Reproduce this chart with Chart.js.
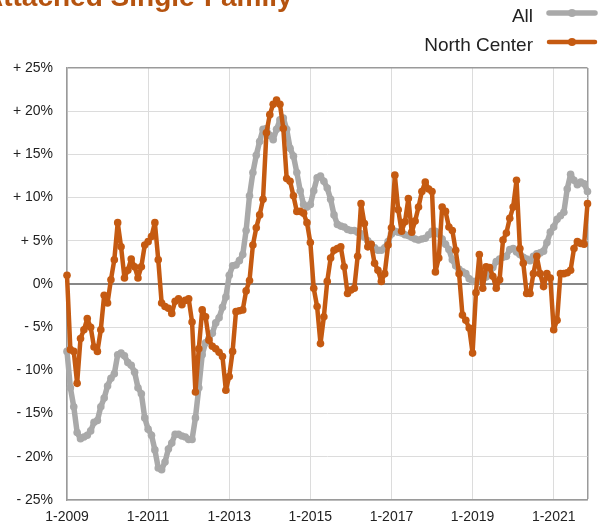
<!DOCTYPE html>
<html>
<head>
<meta charset="utf-8">
<script src="https://cdn.jsdelivr.net/npm/chart.js@4.4.1/dist/chart.umd.min.js"></script>
<style>
  html, body { margin: 0; padding: 0; background: #fff; overflow: hidden; }
  #wrap { position: relative; width: 598px; height: 526px; }
</style>
</head>
<body>
<div id="wrap"><canvas id="chart" width="598" height="526"></canvas></div>
<script>
const chartTitle = "Attached Single-Family";
const tickLabels = ["1-2009", "1-2011", "1-2013", "1-2015", "1-2017", "1-2019", "1-2021"];
const seriesNames = ["All", "North Center"];

// monthly % change, 1-2009 .. 11-2021
const allValues = [
  -7.8, -12.0, -14.2, -17.2, -17.9, -17.7, -17.5, -17.0, -16.0, -15.8,
  -14.2, -13.2, -11.8, -10.9, -10.4, -8.2, -8.0, -8.3, -9.1, -9.4,
  -10.2, -12.0, -12.7, -15.5, -16.8, -17.5, -19.2, -21.3, -21.5, -20.6,
  -19.1, -18.4, -17.4, -17.4, -17.6, -17.7, -18.0, -18.0, -15.5, -12.0,
  -8.2, -6.8, -6.3, -5.7, -4.5, -3.9, -2.7, -1.5, 1.0, 2.1,
  2.2, 2.7, 3.4, 6.2, 10.2, 12.9, 14.9, 16.5, 17.9, 18.0,
  17.2, 16.7, 17.9, 19.0, 19.2, 17.9, 15.7, 14.8, 12.9, 10.8,
  9.2, 8.9, 9.2, 10.8, 12.3, 12.5, 11.9, 11.1, 9.8, 8.0,
  6.9, 6.7, 6.6, 6.3, 6.2, 6.2, 6.0, 5.8, 5.4, 5.0,
  4.6, 4.2, 3.9, 3.9, 4.2, 4.9, 5.8, 6.1, 6.0, 5.9,
  5.7, 5.6, 5.4, 5.2, 5.1, 5.2, 5.3, 5.7, 6.1, 6.1,
  5.8, 5.2, 4.6, 4.0, 2.8, 2.1, 1.7, 1.4, 1.2, 0.6,
  0.3, 0.3, 0.5, 0.7, 0.8, 1.3, 1.9, 2.6, 2.9, 3.1,
  3.2, 4.0, 4.1, 3.7, 3.4, 3.1, 2.9, 2.7, 3.2, 3.5,
  3.6, 3.8, 4.8, 6.0, 6.6, 7.5, 7.9, 8.3, 11.0, 12.7,
  12.0, 11.5, 11.8, 11.6, 10.7
];
const northCenterValues = [
  1.0, -7.6, -7.8, -11.5, -6.3, -5.3, -4.0, -5.0, -7.3, -7.8,
  -5.3, -1.3, -2.2, 0.5, 2.8, 7.1, 4.3, 0.7, 1.6, 2.9,
  2.0, 0.7, 2.0, 4.5, 4.9, 5.5, 7.1, 2.8, -2.2, -2.6,
  -2.8, -3.4, -2.0, -1.7, -2.4, -1.9, -1.7, -4.4, -12.5, -7.5,
  -3.0, -3.8, -6.5, -7.2, -7.5, -7.9, -8.4, -12.3, -10.7, -7.8,
  -3.2, -3.1, -3.0, -0.8, 0.4, 4.5, 6.5, 8.0, 9.8, 17.5,
  19.6, 20.8, 21.3, 20.8, 18.0, 12.2, 11.9, 10.2, 8.4, 8.4,
  8.2, 7.1, 4.8, -0.5, -2.6, -6.9, -3.8, 0.3, 3.0, 3.9,
  4.1, 4.3, 2.0, -1.1, -0.7, -0.5, 3.2, 9.3, 7.0, 4.3,
  4.6, 2.4, 1.6, 0.3, 1.2, 4.5, 6.5, 12.6, 8.6, 6.1,
  7.2, 9.9, 6.0, 7.3, 8.9, 10.7, 11.8, 11.0, 10.7, 1.4,
  3.0, 8.9, 8.4, 6.6, 6.2, 3.9, 1.2, -3.6, -4.2, -5.1,
  -8.0, -1.0, 3.4, -0.5, 2.0, 1.9, 0.9, -0.5, 0.5, 5.1,
  5.9, 7.6, 8.9, 12.0, 4.1, 2.4, -1.1, -1.1, 1.2, 3.2,
  1.2, -0.3, 1.2, 0.7, -5.3, -4.2, 1.2, 1.2, 1.3, 1.6,
  4.1, 4.9, 4.7, 4.6, 9.3
];

const FONT = '"Liberation Sans", Arial, Helvetica, sans-serif';
const GRAY = "#a9a9a9";
const ORANGE = "#c55a11";
const lastIndex = allValues.length - 1;

function toPoints(arr){ return arr.map((y, i) => ({ x: i, y })); }

// title (clipped at the top like the source) + legend with line swatches on the right
const headerPlugin = {
  id: "header",
  afterDraw(chart){
    const ctx = chart.ctx;
    ctx.save();
    ctx.font = "bold 28px " + FONT;
    ctx.fillStyle = "#b5530f";
    ctx.textAlign = "left";
    ctx.textBaseline = "alphabetic";
    ctx.fillText(chartTitle, -17, 6);

    ctx.font = "19px " + FONT;
    ctx.textAlign = "right";
    ctx.textBaseline = "middle";
    chart.data.datasets.forEach((ds, i) => {
      const y = 17 + i * 29;
      ctx.fillStyle = "#222";
      ctx.fillText(ds.label, 533, y);
      ctx.strokeStyle = ds.borderColor;
      ctx.lineWidth = ds.borderWidth;
      ctx.lineCap = "round";
      ctx.beginPath(); ctx.moveTo(549, y - 4); ctx.lineTo(595, y - 4); ctx.stroke();
      ctx.fillStyle = ds.borderColor;
      ctx.beginPath(); ctx.arc(572, y - 4, 4, 0, Math.PI * 2); ctx.fill();
    });
    ctx.restore();
  }
};

new Chart(document.getElementById("chart"), {
  type: "line",
  data: {
    datasets: [
      {
        label: seriesNames[0],
        data: toPoints(allValues),
        borderColor: GRAY, backgroundColor: GRAY,
        pointBackgroundColor: GRAY, pointBorderWidth: 0, pointRadius: 3.8,
        borderWidth: 5.5, borderJoinStyle: "round", borderCapStyle: "round",
        tension: 0, clip: false, order: 2
      },
      {
        label: seriesNames[1],
        data: toPoints(northCenterValues),
        borderColor: ORANGE, backgroundColor: ORANGE,
        pointBackgroundColor: ORANGE, pointBorderWidth: 0, pointRadius: 3.8,
        borderWidth: 4.5, borderJoinStyle: "round", borderCapStyle: "round",
        tension: 0, clip: false, order: 1
      }
    ]
  },
  options: {
    responsive: false,
    animation: false,
    devicePixelRatio: 1,
    layout: { padding: { top: 68, right: 10.5, left: 0, bottom: 0 } },
    plugins: { legend: { display: false }, tooltip: { enabled: false }, title: { display: false } },
    scales: {
      x: {
        type: "linear",
        min: 0, max: lastIndex,
        afterBuildTicks: axis => {
          axis.ticks = tickLabels.map((_, i) => ({ value: i * 24 })).concat([{ value: lastIndex }]);
        },
        afterFit: axis => { axis.height = 26; },
        ticks: {
          autoSkip: false, maxRotation: 0, padding: 9,
          color: "#222", font: { family: FONT, size: 14 },
          callback: v => (v % 24 === 0 ? tickLabels[v / 24] : "")
        },
        grid: {
          drawTicks: false,
          color: c => (c.tick && c.tick.value === lastIndex ? "#9a9a9a" : "#dcdcdc"),
          lineWidth: c => (c.tick && c.tick.value === lastIndex ? 1.5 : 1)
        },
        border: { color: "#9a9a9a", width: 1.5 }
      },
      y: {
        min: -25, max: 25,
        afterFit: axis => { axis.width = 67; },
        ticks: {
          stepSize: 5, padding: 14,
          color: "#222", font: { family: FONT, size: 14 },
          callback: v => (v > 0 ? "+ " + v + "%" : v < 0 ? "- " + (-v) + "%" : "0%")
        },
        grid: {
          drawTicks: false,
          color: c => (c.tick.value === 0 ? "#878787" : c.tick.value === 25 ? "#9a9a9a" : "#dcdcdc"),
          lineWidth: c => (c.tick.value === 0 ? 2 : c.tick.value === 25 ? 1.5 : 1)
        },
        border: { color: "#9a9a9a", width: 1.5 }
      }
    }
  },
  plugins: [headerPlugin]
});
</script>
</body>
</html>
